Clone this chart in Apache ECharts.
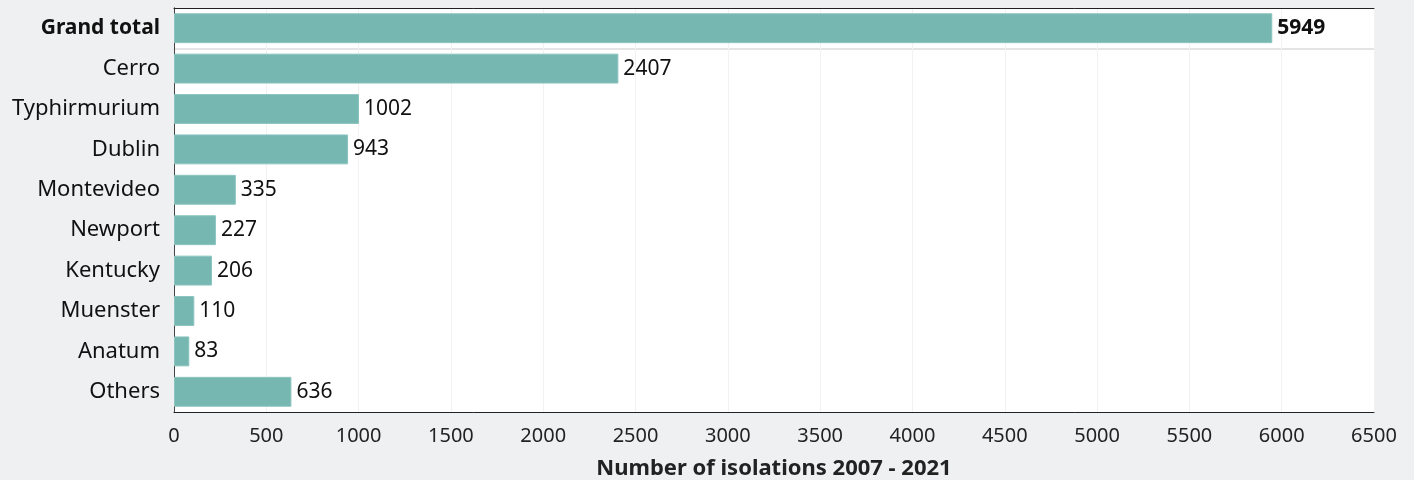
<!DOCTYPE html>
<html>
<head>
<meta charset="utf-8">
<script src="https://cdn.jsdelivr.net/npm/echarts@6/dist/echarts.min.js"></script>
<style>
  html, body { margin: 0; padding: 0; background: #eff0f2; }
  #chart { width: 1414px; height: 480px; }
</style>
</head>
<body>
<div id="chart"></div>
<script>
const categories = ['Grand total', 'Cerro', 'Typhirmurium', 'Dublin', 'Montevideo', 'Newport', 'Kentucky', 'Muenster', 'Anatum', 'Others']
const isolations = [5949, 2407, 1002, 943, 335, 227, 206, 110, 83, 636]

const chart = echarts.init(document.getElementById('chart'), null, { renderer: 'canvas' })
const font = 'Noto Sans, sans-serif'
const edge = { show: true, lineStyle: { color: '#222', width: 1 } }

// row boundaries: index 0 is the top edge, 1 is the line under "Grand total"
const rowLines = categories.concat(['']).map((c, i) => i === 1 ? '#e4e4e4' : 'rgba(0,0,0,0)')

const option = {
  animation: false,
  backgroundColor: '#eff0f2',
  grid: {
    left: 174, right: 40, top: 8, bottom: 68,
    outerBoundsMode: 'none',
    show: true, backgroundColor: '#fff', borderWidth: 0
  },
  xAxis: [{
    type: 'value',
    min: 0,
    max: 6500,
    interval: 500,
    name: 'Number of isolations 2007 - 2021',
    nameLocation: 'middle',
    nameGap: 46,
    nameTextStyle: { fontFamily: font, fontSize: 22, fontWeight: 'bold', color: '#222' },
    axisLine: edge,
    axisTick: { show: false },
    axisLabel: { fontFamily: font, fontSize: 20, color: '#222', margin: 14, formatter: (v) => String(v) },
    splitLine: { lineStyle: { color: '#f2f2f2', width: 1 } }
  }, {
    type: 'value',
    position: 'top',
    min: 0,
    max: 6500,
    axisLine: edge,
    axisTick: { show: false },
    axisLabel: { show: false },
    splitLine: { show: false }
  }],
  yAxis: [{
    type: 'category',
    inverse: true,
    data: categories,
    axisLine: edge,
    axisTick: { show: false },
    axisLabel: {
      fontFamily: font, fontSize: 22, color: '#111', margin: 14,
      formatter: (v) => v === 'Grand total' ? '{b|' + v + '}' : v,
      rich: { b: { fontFamily: font, fontSize: 21, fontWeight: 'bold', color: '#111' } }
    },
    splitLine: { show: true, interval: 0, lineStyle: { color: rowLines, width: 2 } }
  }, {
    type: 'category',
    inverse: true,
    position: 'right',
    data: categories,
    axisLine: { show: true, lineStyle: { color: '#444', width: 1 } },
    axisTick: { show: false },
    axisLabel: { show: false },
    splitLine: { show: false }
  }],
  series: [{
    type: 'bar',
    data: isolations.map((v, i) => ({
      value: v,
      label: i === 0 ? { fontWeight: 'bold' } : undefined
    })),
    barCategoryGap: '26%',
    itemStyle: { color: '#76b7b2', borderColor: '#8cc4bf', borderWidth: 1 },
    label: { show: true, position: 'right', distance: 5, fontFamily: font, fontSize: 21, color: '#111' }
  }]
}

chart.setOption(option)
</script>
</body>
</html>
